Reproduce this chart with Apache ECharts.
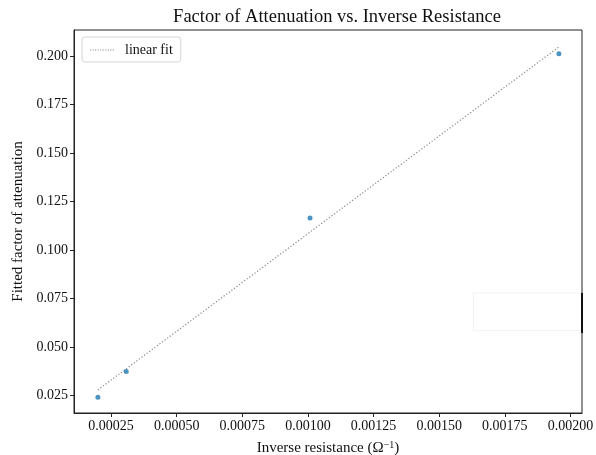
<!DOCTYPE html>
<html><head><meta charset="utf-8">
<script src="https://cdn.jsdelivr.net/npm/echarts@6/dist/echarts.min.js"></script>
<style>html,body{margin:0;padding:0;background:#fff}#c{width:596px;height:455px}</style>
</head><body><div id="c"></div>
<script>
// Data
const dataX = [0.000200, 0.000308, 0.001008, 0.001956];
const dataY = [0.0242, 0.0375, 0.1166, 0.2012];
const fitX = [0.000200, 0.001956];
const fitY = [0.0280, 0.2047];
const xTicks = [0.00025, 0.0005, 0.00075, 0.001, 0.00125, 0.0015, 0.00175, 0.002];
const yTicks = [0.025, 0.05, 0.075, 0.1, 0.125, 0.15, 0.175, 0.2];
const xRange = [0.000109, 0.002044];
const yRange = [0.0161, 0.2134];
// faint overlay artefact visible in the reference near the right edge
const artX = [0.00163, 0.002044];
const artY = [0.0585, 0.0779];
const segY = [0.0573, 0.0779];

const font = '"Liberation Serif", "DejaVu Serif", serif';
const ink = '#111';
let dots = '';
for (let k = 0; k < 10; k++) dots += 'M' + (k * 2.6) + ',0h1.1v1.1h-1.1z ';
const chart = echarts.init(document.getElementById('c'), null, {renderer: 'canvas'});
chart.setOption({
  animation: false,
  backgroundColor: '#fff',
  title: {
    text: 'Factor of Attenuation vs. Inverse Resistance',
    left: 332, top: 3, textAlign: 'center',
    textStyle: {fontFamily: font, fontSize: 18.5, fontWeight: 'normal', color: ink}
  },
  grid: {left: 74, right: 14, top: 30, bottom: 42, show: true, borderColor: '#222', borderWidth: 1,
         backgroundColor: 'transparent', containLabel: false, outerBoundsMode: 'none'},
  legend: {
    left: 82, top: 37,
    data: [{name: 'linear fit', icon: 'path://' + dots}],
    borderColor: '#d5d5d5', borderWidth: 1, borderRadius: 3,
    padding: [6, 8, 5, 8], itemWidth: 24, itemHeight: 1.1, itemGap: 6,
    textStyle: {fontFamily: font, fontSize: 14, color: ink, padding: [0, 0, 0, 6]}
  },
  xAxis: {
    type: 'value', min: xRange[0], max: xRange[1],
    name: 'Inverse resistance (Ω{sup|−1})', nameLocation: 'middle', nameGap: 27,
    nameTextStyle: {fontFamily: font, fontSize: 15, color: ink, rich: {sup: {fontFamily: font, fontSize: 10, verticalAlign: 'top', padding: [0, 0, 6, 0], color: ink}}},
    splitLine: {show: false},
    axisLine: {show: true, lineStyle: {color: '#222'}},
    axisTick: {show: true, length: 4, inside: false, customValues: xTicks, lineStyle: {color: '#222'}},
    axisLabel: {customValues: xTicks, margin: 6, fontFamily: font, fontSize: 14, color: ink, formatter: v => v.toFixed(5)}
  },
  yAxis: {
    type: 'value', min: yRange[0], max: yRange[1],
    name: 'Fitted factor of attenuation', nameLocation: 'middle', nameGap: 48,
    nameTextStyle: {fontFamily: font, fontSize: 15, color: ink},
    splitLine: {show: false},
    axisLine: {show: true, lineStyle: {color: '#222'}},
    axisTick: {show: true, length: 4, customValues: yTicks, lineStyle: {color: '#222'}},
    axisLabel: {customValues: yTicks, margin: 6, fontFamily: font, fontSize: 14, color: ink, formatter: v => v.toFixed(3)}
  },
  series: [
    {
      name: 'linear fit', type: 'line', symbol: 'none', z: 2,
      data: fitX.map((x, i) => [x, fitY[i]]),
      lineStyle: {color: '#888', width: 1.2, type: [1.2, 2]},
      itemStyle: {color: '#888'}
    },
    {
      name: 'data', type: 'scatter', symbolSize: 5, z: 3,
      data: dataX.map((x, i) => [x, dataY[i]]),
      itemStyle: {color: '#1f77b4'}
    },
    {
      name: 'artefact', type: 'line', symbol: 'none', z: 4, clip: false, silent: true,
      data: segY.map(y => [xRange[1], y]),
      lineStyle: {color: '#111', width: 2},
      markArea: {
        silent: true,
        itemStyle: {color: 'rgba(0,0,0,0)', borderColor: 'rgba(0,0,0,0.05)', borderWidth: 1,
                    shadowColor: 'rgba(0,0,0,0.06)', shadowBlur: 4},
        data: [[{coord: [artX[0], artY[1]]}, {coord: [artX[1], artY[0]]}]]
      }
    }
  ]
});
</script></body></html>
